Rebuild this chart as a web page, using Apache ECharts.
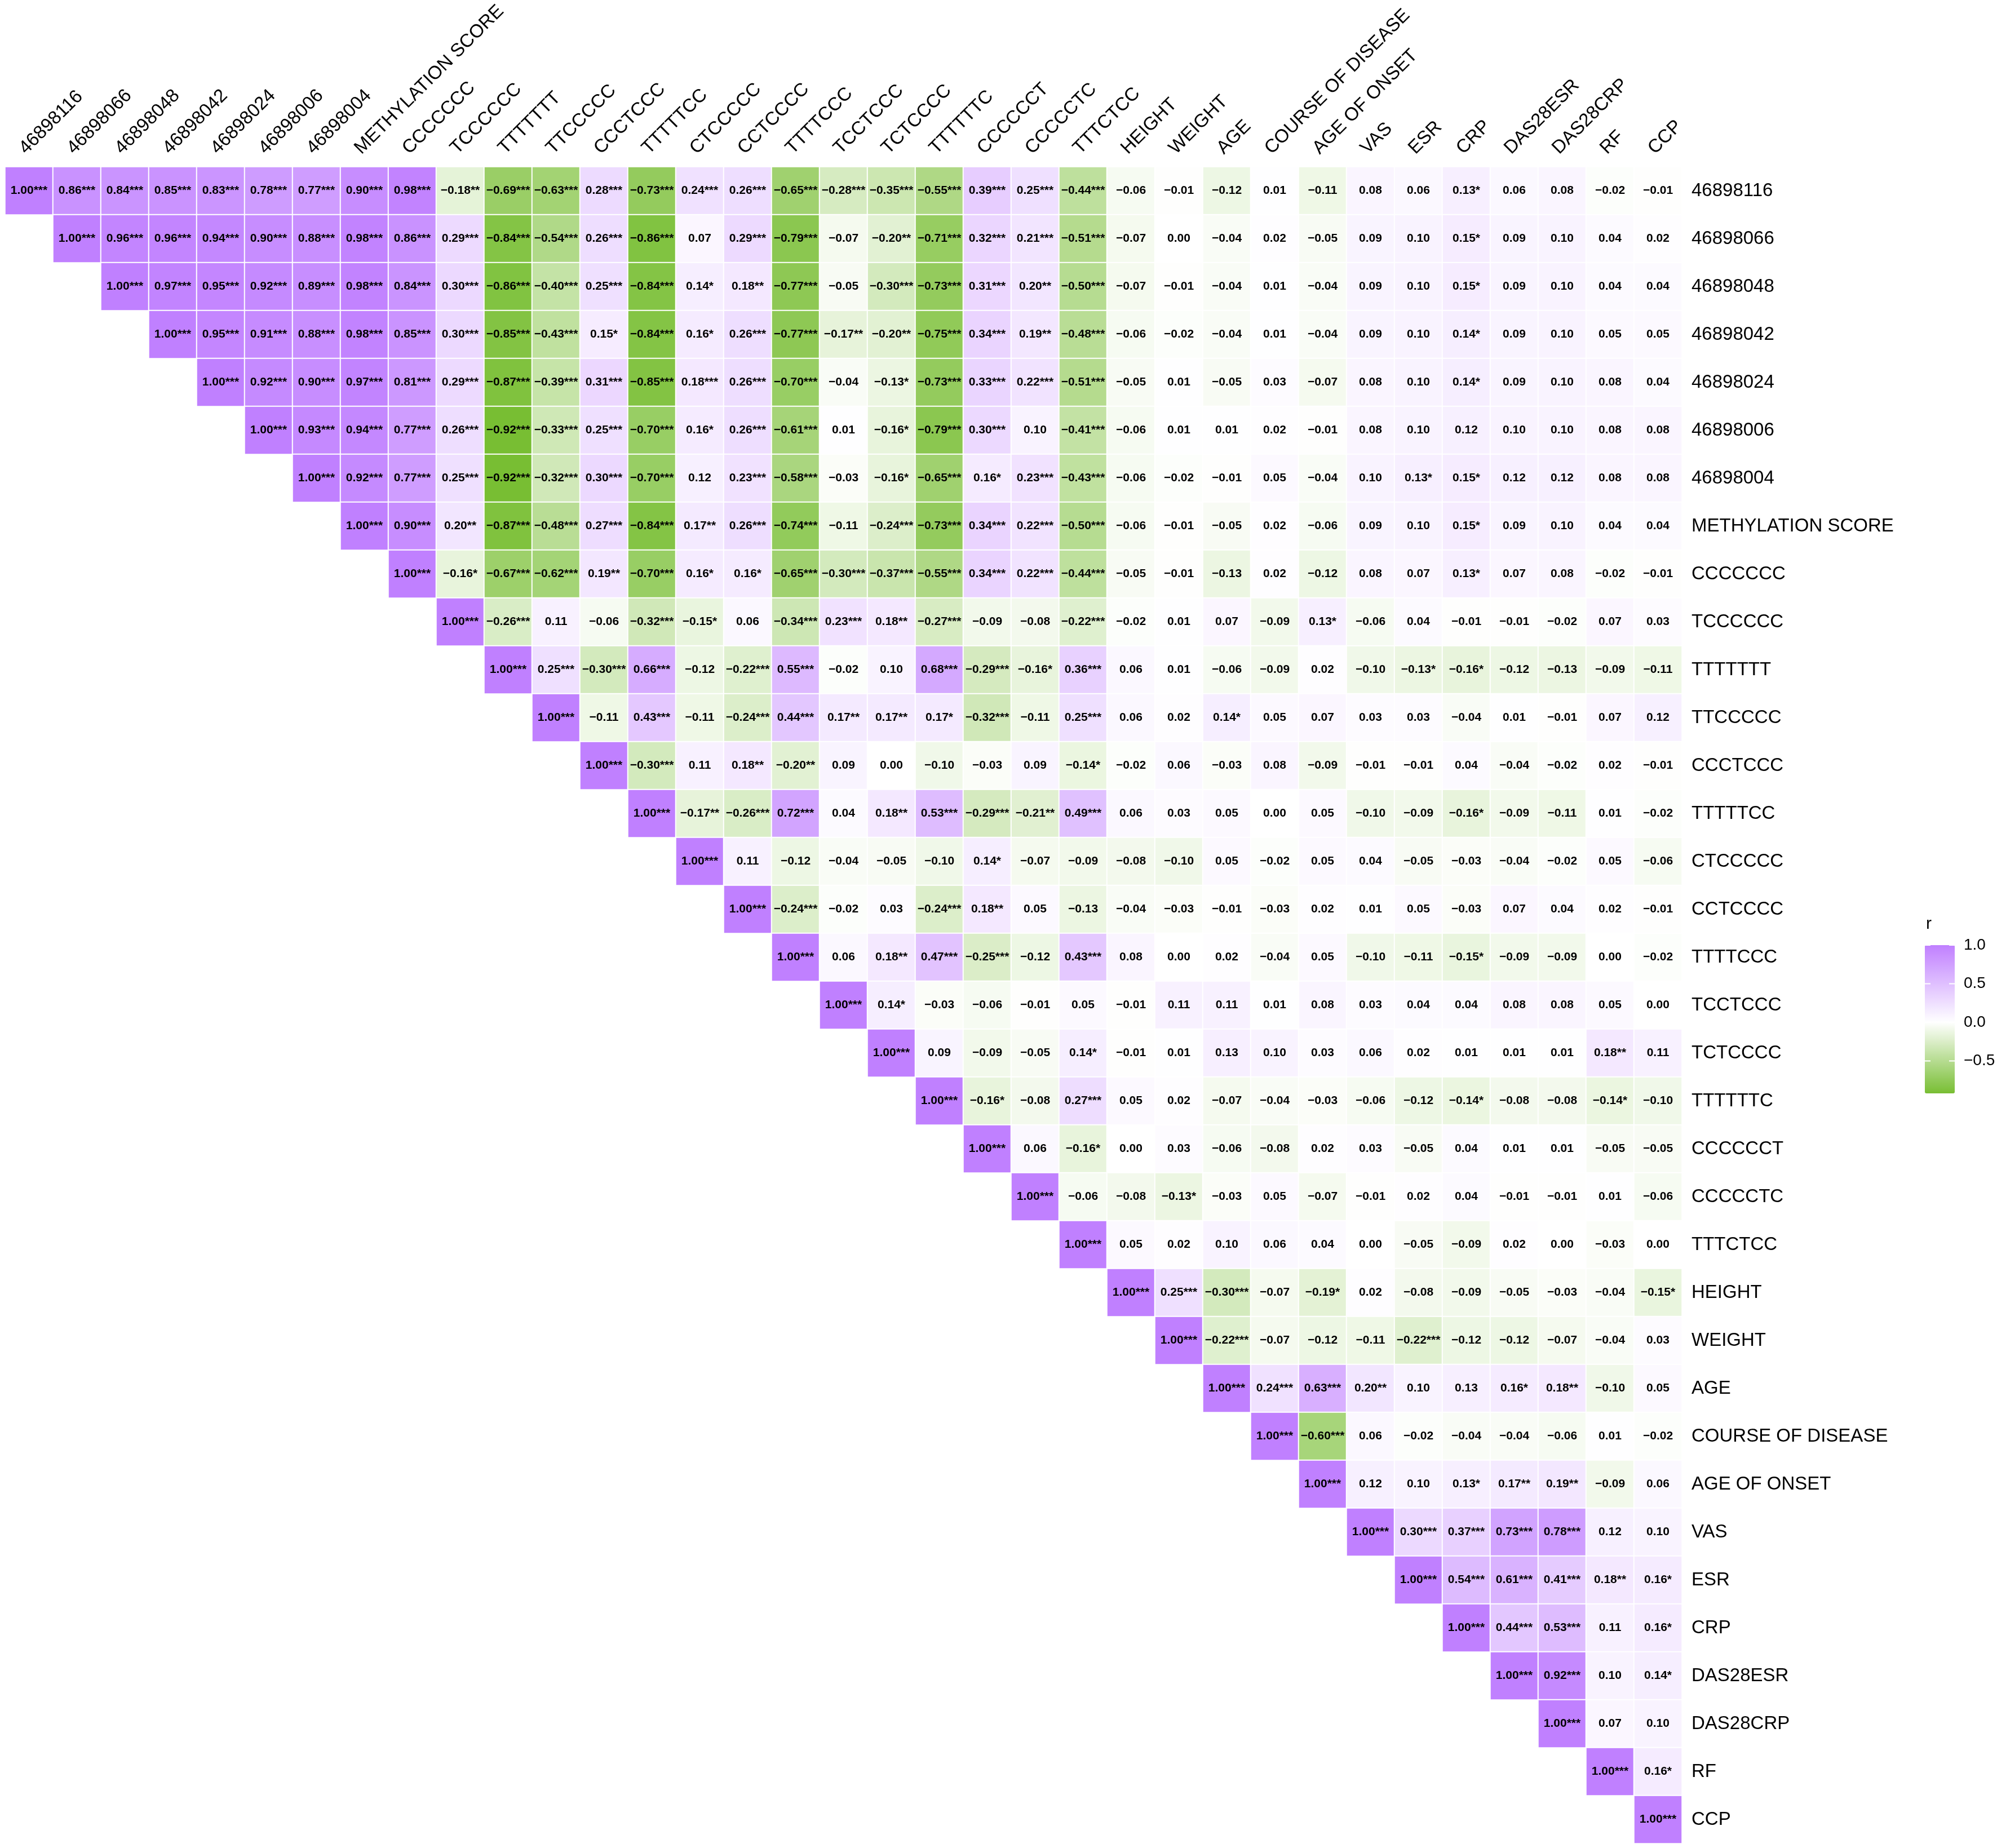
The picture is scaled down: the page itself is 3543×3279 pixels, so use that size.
<!DOCTYPE html>
<html>
<head>
<meta charset="utf-8">
<script src="https://cdn.jsdelivr.net/npm/echarts@6/dist/echarts.min.js"></script>
<style>html,body{margin:0;padding:0;background:#fff;}#chart{width:3543px;height:3279px;}</style>
</head>
<body>
<div id="chart"></div>
<script>
const varNames = ["46898116","46898066","46898048","46898042","46898024","46898006","46898004","METHYLATION SCORE","CCCCCCC","TCCCCCC","TTTTTTT","TTCCCCC","CCCTCCC","TTTTTCC","CTCCCCC","CCTCCCC","TTTTCCC","TCCTCCC","TCTCCCC","TTTTTTC","CCCCCCT","CCCCCTC","TTTCTCC","HEIGHT","WEIGHT","AGE","COURSE OF DISEASE","AGE OF ONSET","VAS","ESR","CRP","DAS28ESR","DAS28CRP","RF","CCP"];

// upper-triangle correlation rows (row i starts at column i), value + significance stars
const corrRows = [
"1.00*** 0.86*** 0.84*** 0.85*** 0.83*** 0.78*** 0.77*** 0.90*** 0.98*** -0.18** -0.69*** -0.63*** 0.28*** -0.73*** 0.24*** 0.26*** -0.65*** -0.28*** -0.35*** -0.55*** 0.39*** 0.25*** -0.44*** -0.06 -0.01 -0.12 0.01 -0.11 0.08 0.06 0.13* 0.06 0.08 -0.02 -0.01",
"1.00*** 0.96*** 0.96*** 0.94*** 0.90*** 0.88*** 0.98*** 0.86*** 0.29*** -0.84*** -0.54*** 0.26*** -0.86*** 0.07 0.29*** -0.79*** -0.07 -0.20** -0.71*** 0.32*** 0.21*** -0.51*** -0.07 0.00 -0.04 0.02 -0.05 0.09 0.10 0.15* 0.09 0.10 0.04 0.02",
"1.00*** 0.97*** 0.95*** 0.92*** 0.89*** 0.98*** 0.84*** 0.30*** -0.86*** -0.40*** 0.25*** -0.84*** 0.14* 0.18** -0.77*** -0.05 -0.30*** -0.73*** 0.31*** 0.20** -0.50*** -0.07 -0.01 -0.04 0.01 -0.04 0.09 0.10 0.15* 0.09 0.10 0.04 0.04",
"1.00*** 0.95*** 0.91*** 0.88*** 0.98*** 0.85*** 0.30*** -0.85*** -0.43*** 0.15* -0.84*** 0.16* 0.26*** -0.77*** -0.17** -0.20** -0.75*** 0.34*** 0.19** -0.48*** -0.06 -0.02 -0.04 0.01 -0.04 0.09 0.10 0.14* 0.09 0.10 0.05 0.05",
"1.00*** 0.92*** 0.90*** 0.97*** 0.81*** 0.29*** -0.87*** -0.39*** 0.31*** -0.85*** 0.18*** 0.26*** -0.70*** -0.04 -0.13* -0.73*** 0.33*** 0.22*** -0.51*** -0.05 0.01 -0.05 0.03 -0.07 0.08 0.10 0.14* 0.09 0.10 0.08 0.04",
"1.00*** 0.93*** 0.94*** 0.77*** 0.26*** -0.92*** -0.33*** 0.25*** -0.70*** 0.16* 0.26*** -0.61*** 0.01 -0.16* -0.79*** 0.30*** 0.10 -0.41*** -0.06 0.01 0.01 0.02 -0.01 0.08 0.10 0.12 0.10 0.10 0.08 0.08",
"1.00*** 0.92*** 0.77*** 0.25*** -0.92*** -0.32*** 0.30*** -0.70*** 0.12 0.23*** -0.58*** -0.03 -0.16* -0.65*** 0.16* 0.23*** -0.43*** -0.06 -0.02 -0.01 0.05 -0.04 0.10 0.13* 0.15* 0.12 0.12 0.08 0.08",
"1.00*** 0.90*** 0.20** -0.87*** -0.48*** 0.27*** -0.84*** 0.17** 0.26*** -0.74*** -0.11 -0.24*** -0.73*** 0.34*** 0.22*** -0.50*** -0.06 -0.01 -0.05 0.02 -0.06 0.09 0.10 0.15* 0.09 0.10 0.04 0.04",
"1.00*** -0.16* -0.67*** -0.62*** 0.19** -0.70*** 0.16* 0.16* -0.65*** -0.30*** -0.37*** -0.55*** 0.34*** 0.22*** -0.44*** -0.05 -0.01 -0.13 0.02 -0.12 0.08 0.07 0.13* 0.07 0.08 -0.02 -0.01",
"1.00*** -0.26*** 0.11 -0.06 -0.32*** -0.15* 0.06 -0.34*** 0.23*** 0.18** -0.27*** -0.09 -0.08 -0.22*** -0.02 0.01 0.07 -0.09 0.13* -0.06 0.04 -0.01 -0.01 -0.02 0.07 0.03",
"1.00*** 0.25*** -0.30*** 0.66*** -0.12 -0.22*** 0.55*** -0.02 0.10 0.68*** -0.29*** -0.16* 0.36*** 0.06 0.01 -0.06 -0.09 0.02 -0.10 -0.13* -0.16* -0.12 -0.13 -0.09 -0.11",
"1.00*** -0.11 0.43*** -0.11 -0.24*** 0.44*** 0.17** 0.17** 0.17* -0.32*** -0.11 0.25*** 0.06 0.02 0.14* 0.05 0.07 0.03 0.03 -0.04 0.01 -0.01 0.07 0.12",
"1.00*** -0.30*** 0.11 0.18** -0.20** 0.09 0.00 -0.10 -0.03 0.09 -0.14* -0.02 0.06 -0.03 0.08 -0.09 -0.01 -0.01 0.04 -0.04 -0.02 0.02 -0.01",
"1.00*** -0.17** -0.26*** 0.72*** 0.04 0.18** 0.53*** -0.29*** -0.21** 0.49*** 0.06 0.03 0.05 0.00 0.05 -0.10 -0.09 -0.16* -0.09 -0.11 0.01 -0.02",
"1.00*** 0.11 -0.12 -0.04 -0.05 -0.10 0.14* -0.07 -0.09 -0.08 -0.10 0.05 -0.02 0.05 0.04 -0.05 -0.03 -0.04 -0.02 0.05 -0.06",
"1.00*** -0.24*** -0.02 0.03 -0.24*** 0.18** 0.05 -0.13 -0.04 -0.03 -0.01 -0.03 0.02 0.01 0.05 -0.03 0.07 0.04 0.02 -0.01",
"1.00*** 0.06 0.18** 0.47*** -0.25*** -0.12 0.43*** 0.08 0.00 0.02 -0.04 0.05 -0.10 -0.11 -0.15* -0.09 -0.09 0.00 -0.02",
"1.00*** 0.14* -0.03 -0.06 -0.01 0.05 -0.01 0.11 0.11 0.01 0.08 0.03 0.04 0.04 0.08 0.08 0.05 0.00",
"1.00*** 0.09 -0.09 -0.05 0.14* -0.01 0.01 0.13 0.10 0.03 0.06 0.02 0.01 0.01 0.01 0.18** 0.11",
"1.00*** -0.16* -0.08 0.27*** 0.05 0.02 -0.07 -0.04 -0.03 -0.06 -0.12 -0.14* -0.08 -0.08 -0.14* -0.10",
"1.00*** 0.06 -0.16* 0.00 0.03 -0.06 -0.08 0.02 0.03 -0.05 0.04 0.01 0.01 -0.05 -0.05",
"1.00*** -0.06 -0.08 -0.13* -0.03 0.05 -0.07 -0.01 0.02 0.04 -0.01 -0.01 0.01 -0.06",
"1.00*** 0.05 0.02 0.10 0.06 0.04 0.00 -0.05 -0.09 0.02 0.00 -0.03 0.00",
"1.00*** 0.25*** -0.30*** -0.07 -0.19* 0.02 -0.08 -0.09 -0.05 -0.03 -0.04 -0.15*",
"1.00*** -0.22*** -0.07 -0.12 -0.11 -0.22*** -0.12 -0.12 -0.07 -0.04 0.03",
"1.00*** 0.24*** 0.63*** 0.20** 0.10 0.13 0.16* 0.18** -0.10 0.05",
"1.00*** -0.60*** 0.06 -0.02 -0.04 -0.04 -0.06 0.01 -0.02",
"1.00*** 0.12 0.10 0.13* 0.17** 0.19** -0.09 0.06",
"1.00*** 0.30*** 0.37*** 0.73*** 0.78*** 0.12 0.10",
"1.00*** 0.54*** 0.61*** 0.41*** 0.18** 0.16*",
"1.00*** 0.44*** 0.53*** 0.11 0.16*",
"1.00*** 0.92*** 0.10 0.14*",
"1.00*** 0.07 0.10",
"1.00*** 0.16*",
"1.00***"
];

const legendBreaks = [1.0, 0.5, 0.0, -0.5];
const scaleMin = -0.92, scaleMax = 1.0;
const lowColor = [120, 190, 51], highColor = [192, 128, 255];

const cells = [];
corrRows.forEach((row, i) => {
  row.split(' ').forEach((tok, k) => {
    const j = i + k;
    const v = parseFloat(tok);
    cells.push([j, i, v, tok.replace('-', '\u2212')]);
  });
});

function mixColor(v) {
  let c, t;
  if (v < 0) { t = Math.min(1, -v / -scaleMin); c = lowColor; }
  else { t = Math.min(1, v / scaleMax); c = highColor; }
  const r = Math.round(255 + (c[0] - 255) * t);
  const g = Math.round(255 + (c[1] - 255) * t);
  const b = Math.round(255 + (c[2] - 255) * t);
  return 'rgb(' + r + ',' + g + ',' + b + ')';
}
const stops = [];
for (let s = 0; s <= 48; s++) stops.push(mixColor(scaleMin + s * 0.04));

const FONT = "'Liberation Sans', Arial, Helvetica, sans-serif";
const gridLeft = 9, gridTop = 296, cell = 85, n = varNames.length;

const legTop = 1677, legH = 263, legLeft = 3415, legW = 53;
const graphics = [{
  type: 'text', left: legLeft + 2, top: legTop - 52,
  style: { text: 'r', font: '30px ' + FONT, fill: '#000' }
}];
legendBreaks.forEach(b => {
  const y = legTop + (scaleMax - b) / (scaleMax - scaleMin) * legH;
  graphics.push({ type: 'text', x: legLeft + legW + 16, y: y, style: { text: b.toFixed(1).replace('-', '\u2212'), font: '28px ' + FONT, fill: '#000', textVerticalAlign: 'middle' }, z: 10 });
  graphics.push({ type: 'line', shape: { x1: legLeft, y1: y, x2: legLeft + 10, y2: y }, style: { stroke: '#fff', lineWidth: 2 }, z: 10 });
  graphics.push({ type: 'line', shape: { x1: legLeft + legW - 10, y1: y, x2: legLeft + legW, y2: y }, style: { stroke: '#fff', lineWidth: 2 }, z: 10 });
});

const chart = echarts.init(document.getElementById('chart'), null, { renderer: 'canvas' });
chart.setOption({
  backgroundColor: '#fff',
  animation: false,
  grid: { left: gridLeft, top: gridTop, width: cell * n, height: cell * n, containLabel: false, outerBoundsMode: 'none' },
  xAxis: {
    type: 'category', data: varNames, position: 'top',
    axisLine: { show: false }, axisTick: { show: false }, splitLine: { show: false },
    axisLabel: { rotate: -45, interval: 0, fontSize: 33, color: '#000', fontFamily: FONT, margin: 16, align: 'left', verticalAlign: 'bottom' }
  },
  yAxis: {
    type: 'category', data: varNames, position: 'right', inverse: true,
    axisLine: { show: false }, axisTick: { show: false }, splitLine: { show: false },
    axisLabel: { interval: 0, fontSize: 33, color: '#000', fontFamily: FONT, margin: 17 }
  },
  visualMap: {
    type: 'continuous', min: scaleMin, max: scaleMax, dimension: 2,
    calculable: false, show: true, left: legLeft, top: legTop,
    itemWidth: legW, itemHeight: legH, padding: 0, text: null,
    inRange: { color: stops }, seriesIndex: 0
  },
  graphic: graphics,
  series: [{
    type: 'heatmap', data: cells,
    itemStyle: { borderColor: '#fff', borderWidth: 2 },
    label: {
      show: true, formatter: p => p.data[3],
      fontSize: 21, fontWeight: 'bold', color: '#000',
      fontFamily: "'Liberation Sans Narrow', 'Liberation Sans', Arial, sans-serif"
    },
    emphasis: { disabled: true }
  }]
});
</script>
</body>
</html>
